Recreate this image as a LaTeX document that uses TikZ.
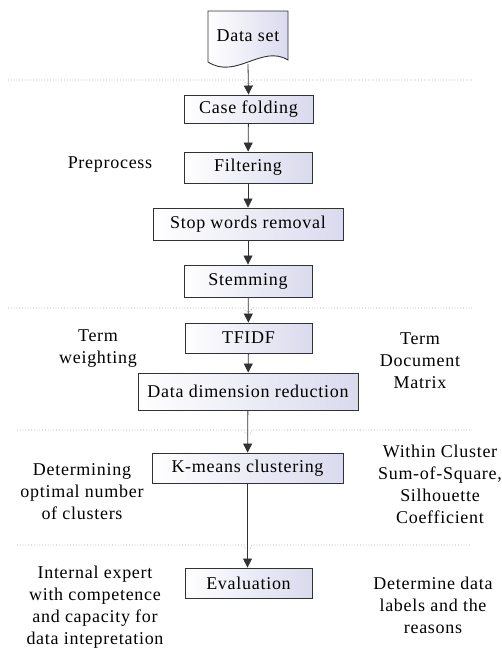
\documentclass[tikz,border=0pt]{standalone}
\usepackage{fontspec}
\setmainfont{Liberation Serif}[LetterSpace=4]
\usetikzlibrary{arrows.meta,shadows}
\definecolor{boxr}{RGB}{218,218,238}
\definecolor{edge}{RGB}{50,50,50}
\begin{document}
\begin{tikzpicture}[x=1pt,y=-1pt,
  every node/.style={font=\fontsize{18}{22}\selectfont},
  box/.style={draw=edge, line width=0.9pt, left color=white, right color=boxr,
    inner sep=0pt, drop shadow={shadow xshift=1pt, shadow yshift=-1pt, fill=gray!50, opacity=0.6}},
  lbl/.style={align=center, inner sep=0pt},
  conn/.style={draw=edge, line width=0.8pt, -{Triangle[width=9pt,length=9pt]}},
  sep/.style={draw=gray!70, line width=0.8pt, dotted}]
\useasboundingbox (0,0) rectangle (502,653);

% document shape
\draw[edge, line width=0.9pt, left color=white, right color=boxr]
  (208,11) -- (288,11) -- (288,60) .. controls (262,44) and (236,80) .. (208,62) -- cycle;
\node (data) at (248,36) {Data set};
\coordinate (databot) at (248,64);

% boxes
\node[box, minimum width=129pt, minimum height=28pt] (cf) at (248.5,109) {Case folding};
\node[box, minimum width=128pt, minimum height=31pt] (filt) at (248,167.5) {Filtering};
\node[box, minimum width=190pt, minimum height=32pt] (stop) at (248,224) {Stop words removal};
\node[box, minimum width=128pt, minimum height=32pt] (stem) at (248,281) {Stemming};
\node[box, minimum width=127pt, minimum height=30pt] (tfidf) at (248.5,338) {TFIDF};
\node[box, minimum width=220pt, minimum height=37pt] (ddr) at (248,391.5) {Data dimension reduction};
\node[box, minimum width=191pt, minimum height=30pt] (km) at (247.5,468) {K-means clustering};
\node[box, minimum width=127pt, minimum height=30pt] (eval) at (248.5,583) {Evaluation};

% separators with hops
\foreach \yy/\xl in {80/8, 308/8, 430/17, 545/17}{
  \draw[sep] (\xl,\yy) -- (244,\yy) arc[start angle=180, end angle=0, radius=4] -- (472,\yy);
}

% connectors
\draw[conn] (databot) -- (cf.north);
\draw[conn] (cf) -- (filt);
\draw[conn] (filt) -- (stop);
\draw[conn] (stop) -- (stem);
\draw[conn] (stem) -- (tfidf);
\draw[conn] (tfidf) -- (ddr);
\draw[conn] (ddr) -- (km);
\draw[conn] (km.south) -- (km.south |- eval.north);

% side labels
\node[lbl] (pre) at (110,165) {Preprocess};
\node[lbl] (tw) at (98,349) {Term\\weighting};
\node[lbl] (tdm) at (420,361) {Term\\Document\\Matrix};
\node[lbl] (det) at (82,492) {Determining\\optimal number\\of clusters};
\node[lbl] (wcs) at (440,484) {Within Cluster\\Sum-of-Square,\\Silhouette\\Coefficient};
\node[lbl] (ie) at (95,607) {Internal expert\\with competence\\and capacity for\\data intepretation};
\node[lbl] (dd) at (433,605) {Determine data\\labels and the\\reasons};
\end{tikzpicture}
\end{document}
